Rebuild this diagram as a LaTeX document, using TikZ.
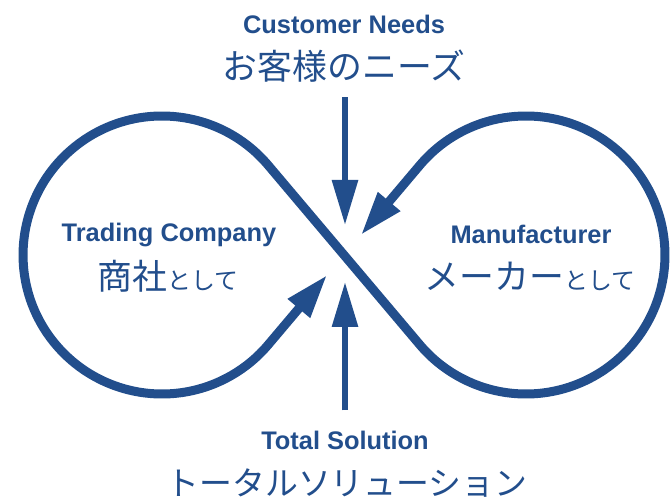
\documentclass[tikz,border=0pt]{standalone}
\usepackage{fontspec}
\newfontfamily\enfont{Liberation Sans}
\newfontfamily\jafont{Noto Sans CJK JP}
\usetikzlibrary{arrows.meta}
\definecolor{infblue}{RGB}{34,78,140}

\tikzstyle{loopline}=[draw=infblue,line width=9bp,line join=round,{Triangle[length=44bp,width=27bp]}-{Triangle[length=44bp,width=27bp]}]
\tikzstyle{inarrow}=[draw=infblue,line width=6bp,-{Triangle[length=45bp,width=25bp]}]
\tikzstyle{entext}=[text=infblue,inner sep=0pt,font=\enfont\bfseries\fontsize{25.5}{28}\selectfont]
\tikzstyle{jatext}=[text=infblue,inner sep=0pt,font=\jafont\fontsize{35}{40}\selectfont]
\newcommand{\kana}[1]{{\fontsize{24}{28}\selectfont #1}}
\newcommand{\infunit}{1bp}

\begin{document}
\begin{tikzpicture}[x=\infunit, y=\infunit]
    \useasboundingbox (0,0) rectangle (671,502);
    % First the points of the loop: tangent points and arrow tips
    \coordinate (lu) at (268.2,336.7);
    \coordinate (ru) at (419.8,336.7);
    \coordinate (ltip) at (327.2,227.1);
    \coordinate (rtip) at (360.8,266.9);
    \coordinate (toptip) at (345,277);
    \coordinate (bottip) at (345,220);
    % The infinity loop, one path with a tip at each end
    \draw[loopline] (rtip) -- (ru) arc[start angle=139.8, end angle=-139.8, radius=139] -- (lu) arc[start angle=40.2, end angle=319.8, radius=139] -- (ltip);
    % Labels
    \foreach \pos/\name/\words in {{(344,478)/needs/Customer Needs}, {(169,267)/trading/Trading Company}, {(531,268)/maker/Manufacturer}, {(345,62)/total/Total Solution}}
        \node[entext] (\name) at \pos {\words};
    \node[jatext] (needsja) at (344,436) {お客様のニーズ};
    \node[jatext] (tradingja) at (168,226) {商社\kana{として}};
    \node[jatext] (makerja) at (530,226) {メーカー\kana{として}};
    \node[jatext,font=\jafont\fontsize{33}{38}\selectfont] (totalja) at (347,19) {トータルソリューション};
    % Arrows into the crossing
    \draw[inarrow,shorten <=15bp] (needsja.south -| toptip) -- (toptip);
    \draw[inarrow,shorten <=20bp] (total.north -| bottip) -- (bottip);
\end{tikzpicture}
\end{document}
